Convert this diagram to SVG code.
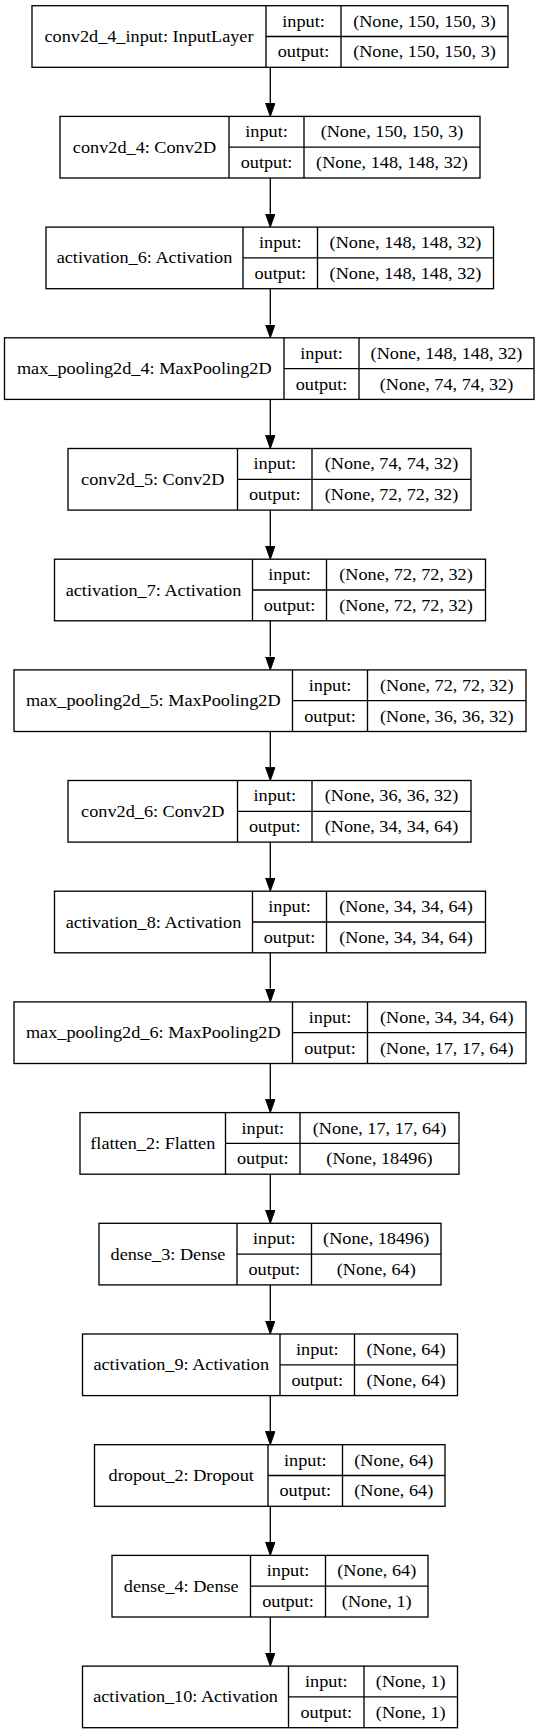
<svg xmlns="http://www.w3.org/2000/svg" width="540" height="1733" viewBox="0 0 540 1733">
<style>
rect.b{fill:#fff;stroke:#000;stroke-width:1.33}
path.d{fill:none;stroke:#000;stroke-width:1.33}
text{font-family:"Liberation Serif","Times New Roman",serif;font-size:16px;fill:#000;text-anchor:middle}
.e{fill:none;stroke:#000;stroke-width:1.33}
</style>
<defs>
<marker id="ah" markerWidth="14" markerHeight="10" refX="0" refY="4.7" orient="auto" markerUnits="userSpaceOnUse"><path d="M0,0 L13.3,4.7 L0,9.4 z" fill="#000" stroke="#000" stroke-width="1"/></marker>
</defs>
<rect width="540" height="1733" fill="#fff"/>
<g id="connectors">
<path class="e" marker-end="url(#ah)" d="M270.3,67.3 V103.1"/>
<path class="e" marker-end="url(#ah)" d="M270.3,178 V213.8"/>
<path class="e" marker-end="url(#ah)" d="M270.3,288.7 V324.5"/>
<path class="e" marker-end="url(#ah)" d="M270.3,399.4 V435.2"/>
<path class="e" marker-end="url(#ah)" d="M270.3,510.1 V545.9"/>
<path class="e" marker-end="url(#ah)" d="M270.3,620.8 V656.6"/>
<path class="e" marker-end="url(#ah)" d="M270.3,731.5 V767.2"/>
<path class="e" marker-end="url(#ah)" d="M270.3,842.1 V877.9"/>
<path class="e" marker-end="url(#ah)" d="M270.3,952.8 V988.6"/>
<path class="e" marker-end="url(#ah)" d="M270.3,1063.5 V1099.3"/>
<path class="e" marker-end="url(#ah)" d="M270.3,1174.2 V1210"/>
<path class="e" marker-end="url(#ah)" d="M270.3,1284.9 V1320.7"/>
<path class="e" marker-end="url(#ah)" d="M270.3,1395.6 V1431.4"/>
<path class="e" marker-end="url(#ah)" d="M270.3,1506.3 V1542.1"/>
<path class="e" marker-end="url(#ah)" d="M270.3,1617 V1652.8"/>
</g>
<g id="n0">
<rect class="b" x="32" y="5.7" width="476" height="61.6"/>
<path class="d" d="M266,5.7 V67.3 M341,5.7 V67.3 M266,36.5 H508"/>
<text transform="translate(149,42) scale(1.14,1)">conv2d_4_input: InputLayer</text>
<text transform="translate(303.5,26.6) scale(1.14,1)">input:</text>
<text transform="translate(303.5,57.4) scale(1.14,1)">output:</text>
<text transform="translate(424.5,26.6) scale(1.14,1)">(None, 150, 150, 3)</text>
<text transform="translate(424.5,57.4) scale(1.14,1)">(None, 150, 150, 3)</text>
</g>
<g id="n1">
<rect class="b" x="60" y="116.4" width="420" height="61.6"/>
<path class="d" d="M229,116.4 V178 M304,116.4 V178 M229,147.2 H480"/>
<text transform="translate(144.5,152.7) scale(1.14,1)">conv2d_4: Conv2D</text>
<text transform="translate(266.5,137.3) scale(1.14,1)">input:</text>
<text transform="translate(266.5,168.1) scale(1.14,1)">output:</text>
<text transform="translate(392,137.3) scale(1.14,1)">(None, 150, 150, 3)</text>
<text transform="translate(392,168.1) scale(1.14,1)">(None, 148, 148, 32)</text>
</g>
<g id="n2">
<rect class="b" x="46" y="227.1" width="447.5" height="61.6"/>
<path class="d" d="M243,227.1 V288.7 M317.5,227.1 V288.7 M243,257.9 H493.5"/>
<text transform="translate(144.5,263.4) scale(1.14,1)">activation_6: Activation</text>
<text transform="translate(280.25,248) scale(1.14,1)">input:</text>
<text transform="translate(280.25,278.8) scale(1.14,1)">output:</text>
<text transform="translate(405.5,248) scale(1.14,1)">(None, 148, 148, 32)</text>
<text transform="translate(405.5,278.8) scale(1.14,1)">(None, 148, 148, 32)</text>
</g>
<g id="n3">
<rect class="b" x="4.5" y="337.8" width="529.5" height="61.6"/>
<path class="d" d="M284,337.8 V399.4 M359,337.8 V399.4 M284,368.6 H534"/>
<text transform="translate(144.25,374.1) scale(1.14,1)">max_pooling2d_4: MaxPooling2D</text>
<text transform="translate(321.5,358.7) scale(1.14,1)">input:</text>
<text transform="translate(321.5,389.5) scale(1.14,1)">output:</text>
<text transform="translate(446.5,358.7) scale(1.14,1)">(None, 148, 148, 32)</text>
<text transform="translate(446.5,389.5) scale(1.14,1)">(None, 74, 74, 32)</text>
</g>
<g id="n4">
<rect class="b" x="68" y="448.5" width="403" height="61.6"/>
<path class="d" d="M237.5,448.5 V510.1 M312,448.5 V510.1 M237.5,479.3 H471"/>
<text transform="translate(152.75,484.8) scale(1.14,1)">conv2d_5: Conv2D</text>
<text transform="translate(274.75,469.4) scale(1.14,1)">input:</text>
<text transform="translate(274.75,500.2) scale(1.14,1)">output:</text>
<text transform="translate(391.5,469.4) scale(1.14,1)">(None, 74, 74, 32)</text>
<text transform="translate(391.5,500.2) scale(1.14,1)">(None, 72, 72, 32)</text>
</g>
<g id="n5">
<rect class="b" x="54.5" y="559.2" width="431" height="61.6"/>
<path class="d" d="M252.5,559.2 V620.8 M326.5,559.2 V620.8 M252.5,590 H485.5"/>
<text transform="translate(153.5,595.5) scale(1.14,1)">activation_7: Activation</text>
<text transform="translate(289.5,580.1) scale(1.14,1)">input:</text>
<text transform="translate(289.5,610.9) scale(1.14,1)">output:</text>
<text transform="translate(406,580.1) scale(1.14,1)">(None, 72, 72, 32)</text>
<text transform="translate(406,610.9) scale(1.14,1)">(None, 72, 72, 32)</text>
</g>
<g id="n6">
<rect class="b" x="14" y="669.9" width="512" height="61.6"/>
<path class="d" d="M292.5,669.9 V731.5 M367.5,669.9 V731.5 M292.5,700.7 H526"/>
<text transform="translate(153.25,706.2) scale(1.14,1)">max_pooling2d_5: MaxPooling2D</text>
<text transform="translate(330,690.8) scale(1.14,1)">input:</text>
<text transform="translate(330,721.6) scale(1.14,1)">output:</text>
<text transform="translate(446.75,690.8) scale(1.14,1)">(None, 72, 72, 32)</text>
<text transform="translate(446.75,721.6) scale(1.14,1)">(None, 36, 36, 32)</text>
</g>
<g id="n7">
<rect class="b" x="68" y="780.5" width="403" height="61.6"/>
<path class="d" d="M237.5,780.5 V842.1 M312,780.5 V842.1 M237.5,811.3 H471"/>
<text transform="translate(152.75,816.8) scale(1.14,1)">conv2d_6: Conv2D</text>
<text transform="translate(274.75,801.4) scale(1.14,1)">input:</text>
<text transform="translate(274.75,832.2) scale(1.14,1)">output:</text>
<text transform="translate(391.5,801.4) scale(1.14,1)">(None, 36, 36, 32)</text>
<text transform="translate(391.5,832.2) scale(1.14,1)">(None, 34, 34, 64)</text>
</g>
<g id="n8">
<rect class="b" x="54.5" y="891.2" width="431" height="61.6"/>
<path class="d" d="M252.5,891.2 V952.8 M326.5,891.2 V952.8 M252.5,922 H485.5"/>
<text transform="translate(153.5,927.5) scale(1.14,1)">activation_8: Activation</text>
<text transform="translate(289.5,912.1) scale(1.14,1)">input:</text>
<text transform="translate(289.5,942.9) scale(1.14,1)">output:</text>
<text transform="translate(406,912.1) scale(1.14,1)">(None, 34, 34, 64)</text>
<text transform="translate(406,942.9) scale(1.14,1)">(None, 34, 34, 64)</text>
</g>
<g id="n9">
<rect class="b" x="14" y="1001.9" width="512" height="61.6"/>
<path class="d" d="M292.5,1001.9 V1063.5 M367.5,1001.9 V1063.5 M292.5,1032.7 H526"/>
<text transform="translate(153.25,1038.2) scale(1.14,1)">max_pooling2d_6: MaxPooling2D</text>
<text transform="translate(330,1022.8) scale(1.14,1)">input:</text>
<text transform="translate(330,1053.6) scale(1.14,1)">output:</text>
<text transform="translate(446.75,1022.8) scale(1.14,1)">(None, 34, 34, 64)</text>
<text transform="translate(446.75,1053.6) scale(1.14,1)">(None, 17, 17, 64)</text>
</g>
<g id="n10">
<rect class="b" x="80" y="1112.6" width="379" height="61.6"/>
<path class="d" d="M225.5,1112.6 V1174.2 M300,1112.6 V1174.2 M225.5,1143.4 H459"/>
<text transform="translate(152.75,1148.9) scale(1.14,1)">flatten_2: Flatten</text>
<text transform="translate(262.75,1133.5) scale(1.14,1)">input:</text>
<text transform="translate(262.75,1164.3) scale(1.14,1)">output:</text>
<text transform="translate(379.5,1133.5) scale(1.14,1)">(None, 17, 17, 64)</text>
<text transform="translate(379.5,1164.3) scale(1.14,1)">(None, 18496)</text>
</g>
<g id="n11">
<rect class="b" x="99" y="1223.3" width="342" height="61.6"/>
<path class="d" d="M237,1223.3 V1284.9 M311.5,1223.3 V1284.9 M237,1254.1 H441"/>
<text transform="translate(168,1259.6) scale(1.14,1)">dense_3: Dense</text>
<text transform="translate(274.25,1244.2) scale(1.14,1)">input:</text>
<text transform="translate(274.25,1275) scale(1.14,1)">output:</text>
<text transform="translate(376.25,1244.2) scale(1.14,1)">(None, 18496)</text>
<text transform="translate(376.25,1275) scale(1.14,1)">(None, 64)</text>
</g>
<g id="n12">
<rect class="b" x="82.5" y="1334" width="375" height="61.6"/>
<path class="d" d="M280,1334 V1395.6 M354.5,1334 V1395.6 M280,1364.8 H457.5"/>
<text transform="translate(181.25,1370.3) scale(1.14,1)">activation_9: Activation</text>
<text transform="translate(317.25,1354.9) scale(1.14,1)">input:</text>
<text transform="translate(317.25,1385.7) scale(1.14,1)">output:</text>
<text transform="translate(406,1354.9) scale(1.14,1)">(None, 64)</text>
<text transform="translate(406,1385.7) scale(1.14,1)">(None, 64)</text>
</g>
<g id="n13">
<rect class="b" x="94.5" y="1444.7" width="350.5" height="61.6"/>
<path class="d" d="M268,1444.7 V1506.3 M342.5,1444.7 V1506.3 M268,1475.5 H445"/>
<text transform="translate(181.25,1481) scale(1.14,1)">dropout_2: Dropout</text>
<text transform="translate(305.25,1465.6) scale(1.14,1)">input:</text>
<text transform="translate(305.25,1496.4) scale(1.14,1)">output:</text>
<text transform="translate(393.75,1465.6) scale(1.14,1)">(None, 64)</text>
<text transform="translate(393.75,1496.4) scale(1.14,1)">(None, 64)</text>
</g>
<g id="n14">
<rect class="b" x="112" y="1555.4" width="316" height="61.6"/>
<path class="d" d="M250.5,1555.4 V1617 M325.5,1555.4 V1617 M250.5,1586.2 H428"/>
<text transform="translate(181.25,1591.7) scale(1.14,1)">dense_4: Dense</text>
<text transform="translate(288,1576.3) scale(1.14,1)">input:</text>
<text transform="translate(288,1607.1) scale(1.14,1)">output:</text>
<text transform="translate(376.75,1576.3) scale(1.14,1)">(None, 64)</text>
<text transform="translate(376.75,1607.1) scale(1.14,1)">(None, 1)</text>
</g>
<g id="n15">
<rect class="b" x="82.5" y="1666.1" width="375" height="61.6"/>
<path class="d" d="M288.5,1666.1 V1727.7 M364,1666.1 V1727.7 M288.5,1696.9 H457.5"/>
<text transform="translate(185.5,1702.4) scale(1.14,1)">activation_10: Activation</text>
<text transform="translate(326.25,1687) scale(1.14,1)">input:</text>
<text transform="translate(326.25,1717.8) scale(1.14,1)">output:</text>
<text transform="translate(410.75,1687) scale(1.14,1)">(None, 1)</text>
<text transform="translate(410.75,1717.8) scale(1.14,1)">(None, 1)</text>
</g>
</svg>
